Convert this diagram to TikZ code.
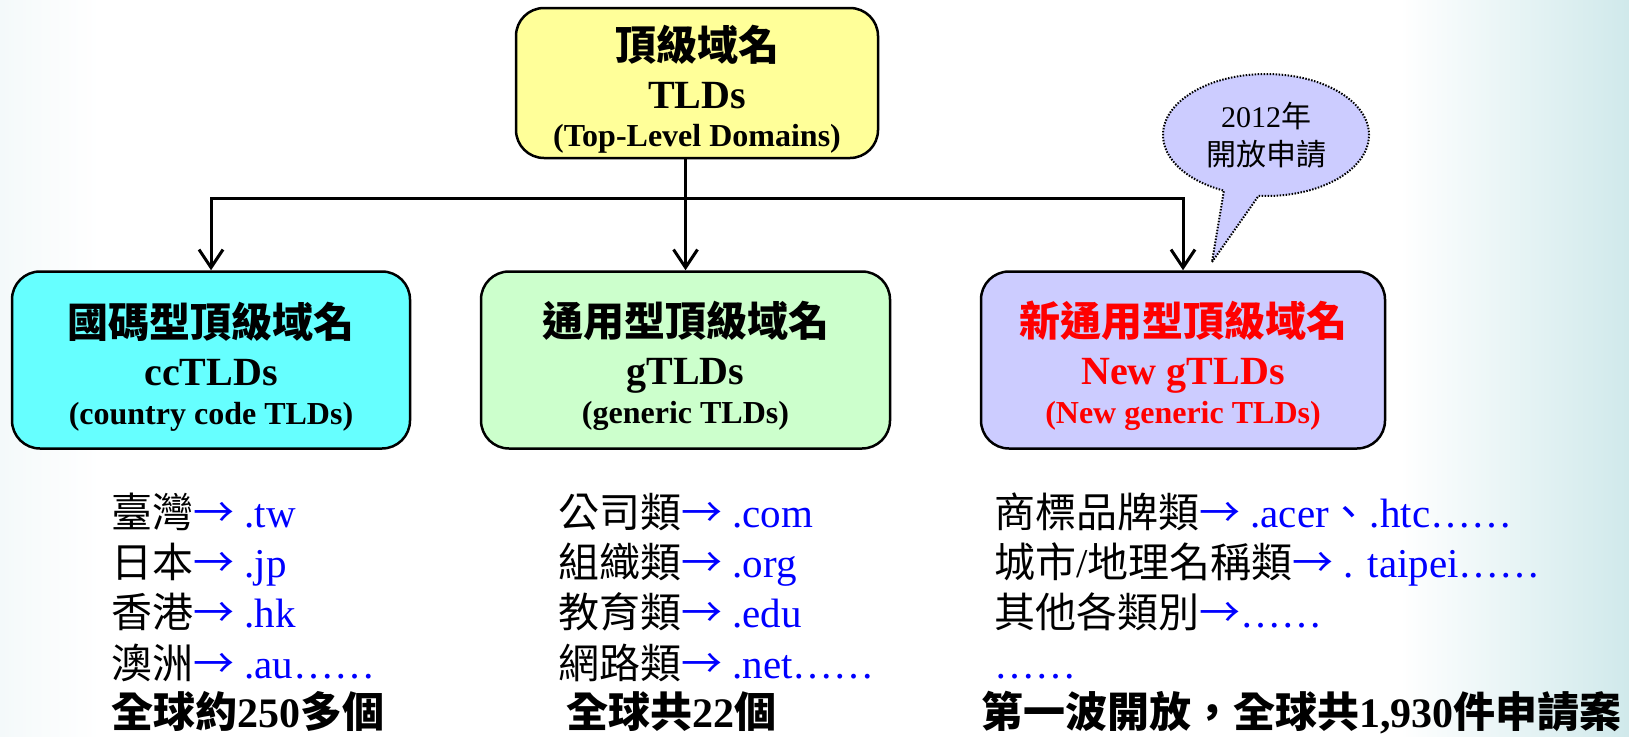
\documentclass[tikz,border=0pt]{standalone}
\usepackage{fontspec}
\setmainfont{Liberation Serif}
\newfontfamily\cjk{Noto Sans CJK TC}
\usetikzlibrary{arrows.meta,shapes.callouts}

\definecolor{rootfill}{RGB}{255,255,153}
\definecolor{ccfill}{RGB}{102,255,255}
\definecolor{gfill}{RGB}{204,255,204}
\definecolor{newfill}{RGB}{204,204,255}
\definecolor{edgeteal}{RGB}{208,233,235}
\definecolor{edgeleft}{RGB}{244,249,250}
\definecolor{domblue}{RGB}{0,0,255}

\newcommand{\zh}[1]{{\cjk #1}}
\newcommand{\dom}[1]{{\color{domblue}#1}}
\newcommand{\maparrow}{\zh{→}}
\newcommand{\toprow}{\rule{0pt}{48pt}}

\tikzset{
  tldbox/.style={draw, line width=2.5pt, rounded corners=28pt, align=center, inner sep=0pt,
    font=\fontsize{40}{48}\selectfont\bfseries},
  trunk/.style={line width=3pt},
  branch/.style={line width=3pt, -{Straight Barb[length=18pt,width=24pt]}},
  listtext/.style={anchor=base west, align=left, inner sep=0pt, font=\fontsize{41}{50.3}\selectfont},
  sumtext/.style={anchor=base west, inner sep=0pt, font=\fontsize{42}{48}\selectfont\bfseries},
}

\begin{document}
\begin{tikzpicture}[x=1pt,y=-1pt]
  % Background
  \useasboundingbox (0,0) rectangle (1629,736);
  \fill[white] (0,0) rectangle (1629,736);
  \shade[left color=edgeleft, right color=white] (0,0) rectangle (100,736);
  \shade[left color=white, right color=edgeteal] (1400,0) rectangle (1629,736);

  % Boxes
  \node[tldbox, fill=rootfill, minimum width=362pt, minimum height=150pt] (root) at (697,83)
    {\toprow\fontsize{41}{48}\selectfont\zh{頂級域名}\\ TLDs\\[-10pt] \fontsize{32}{48}\selectfont (Top-Level Domains)};
  \node[tldbox, fill=ccfill, minimum width=398pt, minimum height=177pt] (cc) at (211,360)
    {\toprow\fontsize{41}{48}\selectfont\zh{國碼型頂級域名}\\ ccTLDs\\[-9pt] \fontsize{32}{48}\selectfont (country code TLDs)};
  \node[tldbox, fill=gfill, minimum width=409pt, minimum height=177pt] (gtld) at (685.5,360)
    {\toprow\fontsize{41}{48}\selectfont\zh{通用型頂級域名}\\ gTLDs\\[-9pt] \fontsize{32}{48}\selectfont (generic TLDs)};
  \node[tldbox, fill=newfill, text=red, minimum width=404pt, minimum height=177pt] (ngtld) at (1183,360)
    {\toprow\fontsize{41}{48}\selectfont\zh{新通用型頂級域名}\\ New gTLDs\\[-9pt] \fontsize{32}{48}\selectfont (New generic TLDs)};

  % Connectors
  \path (gtld.north) ++(0,-72) coordinate (fork);
  \draw[trunk] (root.south -| fork) -- (fork);
  \draw[branch] (fork) -- (gtld.north);
  \draw[branch] (fork) -| (cc.north);
  \draw[branch] (fork) -| (ngtld.north);

  % Speech bubble
  \coordinate (tip) at (1212,262);
  \node[ellipse callout, draw, line width=2pt, dash pattern=on 1.5pt off 1.5pt, fill=newfill,
    minimum width=206pt, minimum height=122pt, inner sep=0pt, callout pointer arc=20,
    callout absolute pointer={(tip)}, align=center, font=\fontsize{30}{38}\selectfont]
    (note) at (1266,135) {2012\zh{年}\\ \zh{開放申請}};

  % Lists (anchored at the baseline of their last line)
  \node[listtext] (cclist) at (111,678)
    {\zh{臺灣}\dom{\maparrow\ .tw}\\ \zh{日本}\dom{\maparrow\ .jp}\\ \zh{香港}\dom{\maparrow\ .hk}\\ \zh{澳洲}\dom{\maparrow\ .au……}};
  \node[listtext] (glist) at (558,678)
    {\zh{公司類}\dom{\maparrow\ .com}\\ \zh{組織類}\dom{\maparrow\ .org}\\ \zh{教育類}\dom{\maparrow\ .edu}\\ \zh{網路類}\dom{\maparrow\ .net……}};
  \node[listtext] (newlist) at (994,678)
    {\zh{商標品牌類}\dom{\maparrow\ .acer\zh{、}.htc……}\\ \zh{城市}/\zh{地理名稱類}\dom{\maparrow\ . taipei……}\\
     \zh{其他各類別}\dom{\maparrow……}\\ \dom{……}};

  % Totals
  \node[sumtext] (ccsum) at (111,727) {\zh{全球約}250\zh{多個}};
  \node[sumtext] (gsum) at (566,727) {\zh{全球共}22\zh{個}};
  \node[sumtext] (newsum) at (981,727) {\zh{第一波開放，全球共}1,930\zh{件申請案}};
\end{tikzpicture}
\end{document}
